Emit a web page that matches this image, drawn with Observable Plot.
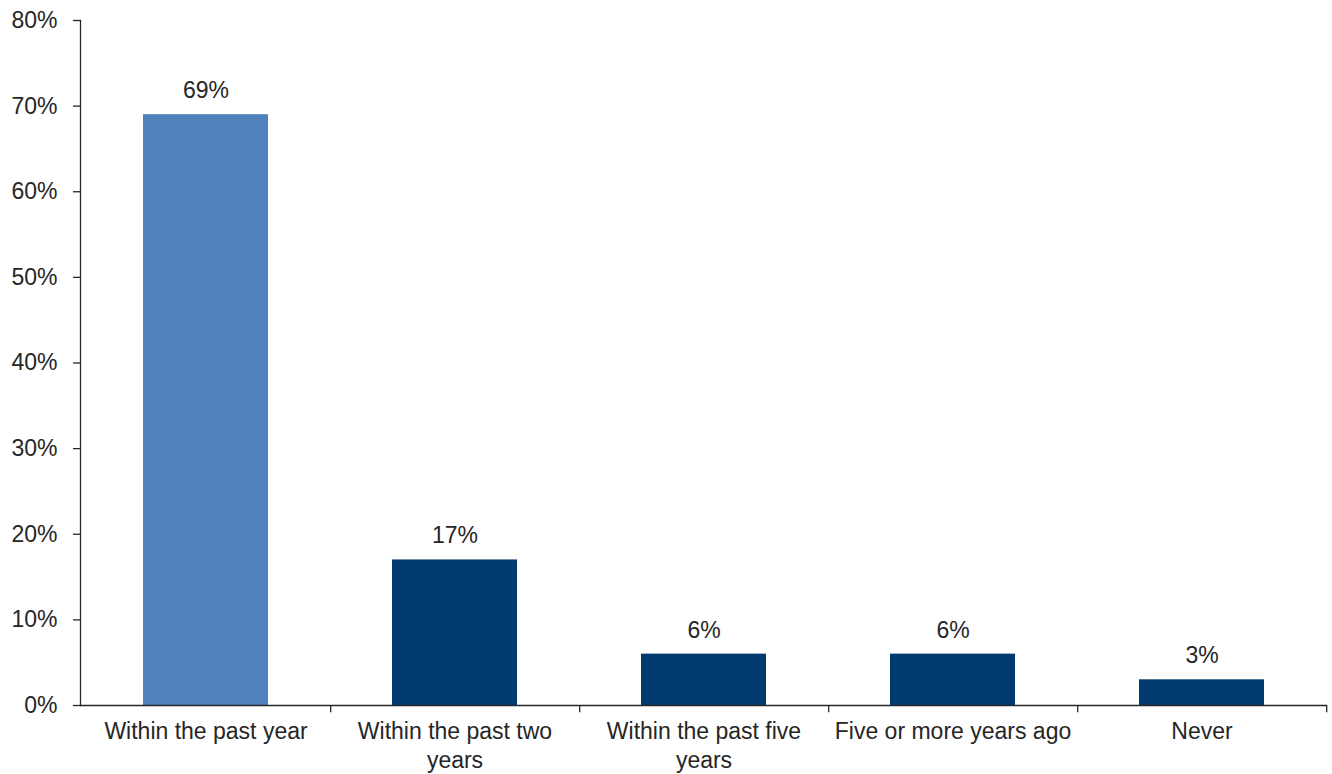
<!DOCTYPE html>
<html>
<head>
<meta charset="utf-8">
<script src="https://cdn.jsdelivr.net/npm/d3@7"></script>
<script src="https://cdn.jsdelivr.net/npm/@observablehq/plot@0.6"></script>
<style>
  html, body { margin: 0; padding: 0; background: #fff; }
  #chart { width: 1332px; height: 774px; }
</style>
</head>
<body>
<div id="chart"></div>
<script>
const categories = ["Within the past year", "Within the past two years", "Within the past five years", "Five or more years ago", "Never"];
const tickLabels = ["Within the past year", "Within the past two\nyears", "Within the past five\nyears", "Five or more years ago", "Never"];
const values = [69, 17, 6, 6, 3];
const highlight = [true, false, false, false, false];
const yTicks = [0, 10, 20, 30, 40, 50, 60, 70, 80];

const data = categories.map((c, i) => ({category: c, value: values[i], hi: highlight[i]}));
const labelOf = new Map(categories.map((c, i) => [c, tickLabels[i]]));

const W = 1332, H = 774;
const mL = 80, mR = 5, mT = 20, mB = 69;
const step = (W - mL - mR) / categories.length;
const font = "Liberation Sans, Arial, sans-serif";
const ink = "#262626";
const fs = 23;

const chart = Plot.plot({
  width: W,
  height: H,
  marginLeft: mL,
  marginRight: mR,
  marginTop: mT,
  marginBottom: mB,
  style: {fontFamily: font, fontSize: fs + "px", color: ink, background: "#fff"},
  x: {domain: categories, paddingInner: 0.5, paddingOuter: 0.25},
  y: {domain: [0, 80]},
  marks: [
    Plot.barY(data, {x: "category", y: "value", fill: d => d.hi ? "#4F81BD" : "#003A6F"}),
    Plot.text(data, {x: "category", y: "value", text: d => d.value + "%", dy: -24, fontSize: fs, fill: ink, lineAnchor: "middle"}),
    Plot.axisY({ticks: yTicks, tickFormat: d => d + "%", tickSize: 7, tickPadding: 16, label: null, fontSize: fs, stroke: ink, strokeWidth: 1.3, fill: ink}),
    Plot.axisX({tickSize: 0, tickPadding: 13, tickFormat: d => labelOf.get(d), label: null, fontSize: fs, lineHeight: 1.26, fill: ink}),
    Plot.ruleX(categories, {x: d => d, dx: step / 2, y1: 0, y2: -0.85, stroke: ink, strokeWidth: 1.3}),
    Plot.ruleY([0], {stroke: ink, strokeWidth: 1.3}),
    Plot.frame({anchor: "left", stroke: ink, strokeWidth: 1.3})
  ]
});
document.getElementById("chart").appendChild(chart);
</script>
</body>
</html>
